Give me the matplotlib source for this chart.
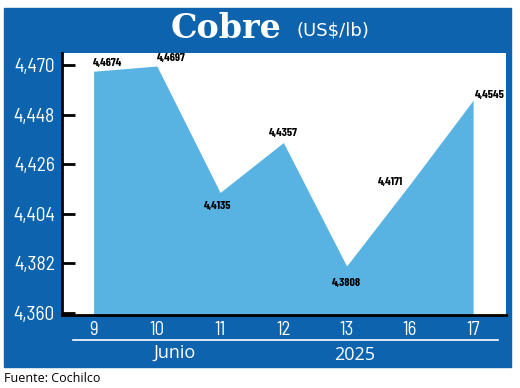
import matplotlib
matplotlib.use("Agg")
import matplotlib.pyplot as plt
from matplotlib.patches import Rectangle

# data
days = ["9", "10", "11", "12", "13", "16", "17"]
prices = [4.4674, 4.4697, 4.4135, 4.4357, 4.3808, 4.4171, 4.4545]
price_labels = ["4,4674", "4,4697", "4,4135", "4,4357", "4,3808", "4,4171", "4,4545"]
yticks = [4.360, 4.382, 4.404, 4.426, 4.448, 4.470]
ytick_labels = ["4,360", "4,382", "4,404", "4,426", "4,448", "4,470"]

blue = "#0d63ad"
fill = "#58b3e3"
narrow = ["Barlow Semi Condensed", "DejaVu Sans"]
W, H = 520, 388

def fx(px):
    return px / W

def fy(py):
    return 1 - py / H

fig = plt.figure(figsize=(5.2, 3.88), dpi=100)
fig.patch.set_facecolor("white")

# blue frame
fig.patches.append(Rectangle((fx(4), fy(367)), fx(507), 359 / H,
                             transform=fig.transFigure, color=blue, zorder=-5))

ax = fig.add_axes([fx(62), fy(315), fx(444), 262 / H])
ax.set_zorder(3)
ax.set_facecolor("white")
x = list(range(len(days)))
ax.fill_between(x, prices, 4.3, color=fill, lw=0)
ax.set_xlim(-0.5, 6.52)
ax.set_ylim(4.359, 4.4755)

ax.set_yticks(yticks)
ax.set_yticklabels(ytick_labels, color="white", fontsize=14, family=narrow)
ax.set_xticks(x)
ax.set_xticklabels(days, color="white", fontsize=13.5, family=narrow)
ax.tick_params(axis="y", direction="in", length=9, width=2, color="black", pad=5)
ax.tick_params(axis="x", length=0, pad=4)
ax.spines["top"].set_visible(False)
ax.spines["right"].set_visible(False)
ax.spines["left"].set_linewidth(2)
ax.spines["bottom"].set_linewidth(2)

offsets = [(10, 6), (10, 6), (-2, -10), (0, 7), (0, -12), (-14, 2), (12, 4)]
for xi, p, lab, off in zip(x, prices, price_labels, offsets):
    ax.annotate(lab, (xi, p), xytext=off, textcoords="offset points",
                ha="center", va="center", fontsize=8.5, fontweight="bold",
                color="black", family=["Barlow Condensed", "DejaVu Sans"])

# title
fig.text(fx(282), fy(29), "Cobre", color="white", fontsize=24, fontweight="bold",
         family="DejaVu Serif", ha="right", va="center")
fig.text(fx(296), fy(31), "(US$/lb)", color="white", fontsize=13,
         ha="left", va="center")

# month / year band
fig.add_artist(plt.Line2D([fx(73), fx(498)], [fy(340), fy(340)], color="white", lw=1.2))
fig.text(fx(175), fy(353), "Junio", color="white", fontsize=13, ha="center", va="center",
         family="Open Sans")
fig.text(fx(355), fy(355), "2025", color="white", fontsize=13, ha="center", va="center",
         family="Open Sans")

fig.text(fx(4), fy(378), "Fuente: Cochilco", color="black", fontsize=9, ha="left",
         va="center", family="Open Sans")

fig.savefig("out.png", dpi=100)
